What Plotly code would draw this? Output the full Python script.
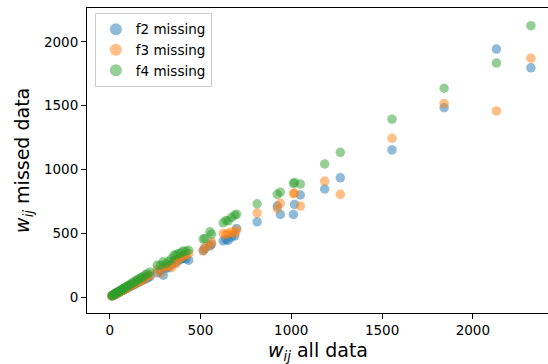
import plotly.graph_objects as go

# shared x values (w_ij all data)
x_all = [12, 16, 20, 24, 28, 32, 36, 40, 45, 50, 55, 60, 66, 72, 78, 85, 92, 100, 108, 116,
         125, 134, 143, 152, 162, 172, 183, 195, 208, 222,
         262, 280, 295, 310, 325, 340, 355, 365, 378, 392, 405, 420, 435,
         515, 524, 552, 561,
         625, 640, 653, 671, 689, 699,
         812, 923, 940, 1012, 1018, 1050, 1184, 1270, 1555, 1842, 2130, 2320]

f2_missing = [8, 11, 14, 17, 20, 23, 26, 29, 33, 36, 40, 44, 48, 53, 57, 62, 67, 73, 79, 85,
              91, 98, 105, 112, 119, 126, 135, 142, 150, 160,
              190, 205, 171, 225, 230, 255, 285, 270, 290, 295, 305, 300, 289,
              365, 380, 400, 415,
              441, 450, 446, 470, 480, 538,
              590, 713, 648, 648, 726, 800, 847, 935, 1153, 1485, 1944, 1797]

f3_missing = [9, 12, 15, 18, 21, 24, 27, 30, 34, 38, 41, 45, 50, 55, 59, 64, 70, 76, 82, 88,
              95, 102, 109, 116, 124, 131, 132, 149, 165, 170,
              215, 187, 235, 240, 245, 230, 275, 262, 300, 310, 320, 330, 340,
              362, 390, 407, 433,
              499, 490, 499, 511, 500, 525,
              658, 695, 735, 810, 815, 713, 909, 805, 1245, 1517, 1459, 1873]

f4_missing = [11, 14, 18, 21, 25, 28, 32, 35, 40, 44, 48, 53, 58, 63, 69, 75, 81, 88, 95, 102,
              110, 118, 126, 134, 143, 151, 161, 172, 183, 196,
              250, 252, 276, 262, 280, 300, 328, 330, 342, 345, 362, 360, 367,
              455, 459, 511, 493,
              582, 600, 598, 624, 642, 650,
              731, 805, 822, 890, 898, 886, 1043, 1135, 1394, 1637, 1834, 2127]

series = [("f2 missing", f2_missing, "#1f77b4"),
          ("f3 missing", f3_missing, "#ff7f0e"),
          ("f4 missing", f4_missing, "#2ca02c")]

fig = go.Figure()
for name, ys, col in series:
    fig.add_trace(go.Scatter(
        x=x_all, y=ys, mode="markers", name=name,
        marker=dict(size=9.5, color=col, opacity=0.5, line=dict(width=0)),
    ))

FONT = "DejaVu Sans"
axis_common = dict(
    showline=True, linecolor="black", linewidth=1, mirror=True,
    ticks="outside", ticklen=5, tickwidth=1, tickcolor="black",
    showgrid=False, zeroline=False,
    tickfont=dict(family=FONT, size=13.5, color="black"),
)

fig.update_layout(
    width=548, height=364,
    margin=dict(l=87, r=0, t=8, b=51),
    paper_bgcolor="white", plot_bgcolor="white",
    showlegend=True,
    legend=dict(
        x=0.017, y=0.984, xanchor="left", yanchor="top",
        bgcolor="rgba(255,255,255,0.8)", bordercolor="#cccccc", borderwidth=1,
        font=dict(family=FONT, size=13.5, color="black"),
        tracegroupgap=0, itemsizing="constant",
    ),
    xaxis=dict(range=[-125, 2414], tickvals=[0, 500, 1000, 1500, 2000], **axis_common),
    yaxis=dict(range=[-125, 2266], tickvals=[0, 500, 1000, 1500, 2000], **axis_common),
    annotations=[
        dict(text="<i>w</i><sub><i>ij</i></sub> all data", xref="paper", yref="paper",
             x=0.5, y=-0.125, xanchor="center", yanchor="middle", showarrow=False,
             font=dict(family=FONT, size=19, color="black")),
        dict(text="<i>w</i><sub><i>ij</i></sub> missed data", xref="paper", yref="paper",
             x=-0.138, y=0.5, xanchor="center", yanchor="middle", showarrow=False,
             textangle=-90, font=dict(family=FONT, size=19, color="black")),
    ],
)

fig.write_html("out.html")
